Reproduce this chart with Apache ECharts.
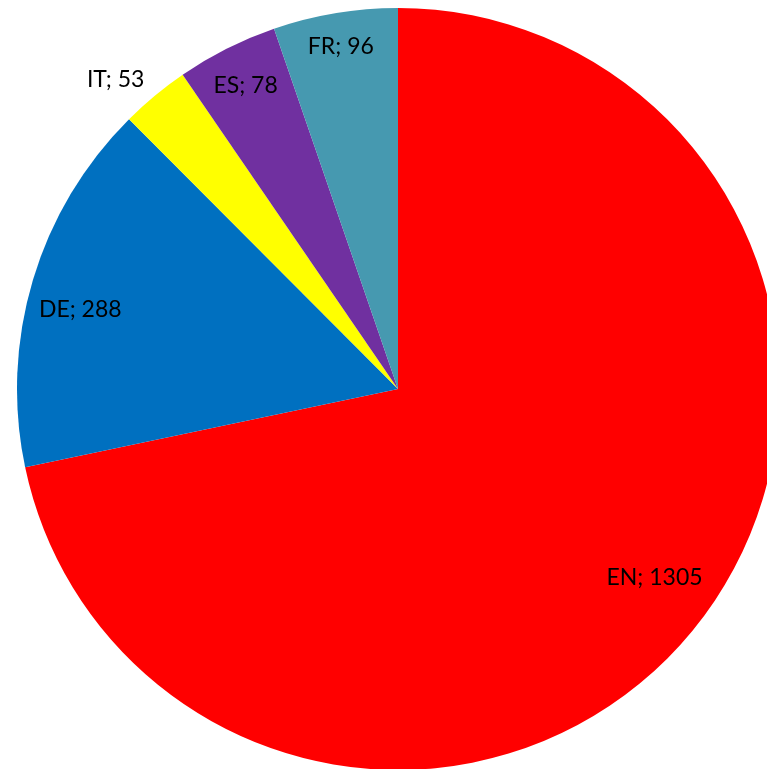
<!DOCTYPE html>
<html>
<head>
<meta charset="utf-8">
<script src="https://cdn.jsdelivr.net/npm/echarts@6/dist/echarts.min.js"></script>
<style>
  html, body { margin: 0; padding: 0; background: #fff; }
  #chart { width: 767px; height: 769px; }
</style>
</head>
<body>
<div id="chart"></div>
<script>
// Language shares, clockwise from 12 o'clock
const languages = ['EN', 'DE', 'IT', 'ES', 'FR'];
const counts = [1305, 288, 53, 78, 96];
const sliceColors = ['#FF0000', '#0070C0', '#FFFF00', '#7030A0', '#4699B0'];

// Pie geometry (px) and how far out each label sits, as a fraction of the radius
const CX = 398, CY = 389, R = 381;
const labelRadius = [0.835, 0.86, 1.10, 0.89, 0.91];
const labelAngleShift = [-2.8, -2.5, -2.7, 0, 0]; // degrees

const total = counts.reduce((a, b) => a + b, 0);
const midAngles = [];
let acc = 0;
counts.forEach(v => {
  const span = v / total * 360;
  midAngles.push(acc + span / 2);
  acc += span;
});

const chart = echarts.init(document.getElementById('chart'), null, { renderer: 'canvas' });
chart.setOption({
  animation: false,
  series: [{
    type: 'pie',
    center: [CX, CY],
    radius: [0, R],
    startAngle: 90,
    clockwise: true,
    avoidLabelOverlap: false,
    label: {
      show: true,
      position: 'inside',
      formatter: p => p.name + '; ' + p.value,
      color: '#000',
      fontFamily: 'Lato',
      fontSize: 23
    },
    labelLine: { show: false },
    labelLayout: params => {
      const i = params.dataIndex;
      const a = (midAngles[i] + labelAngleShift[i]) * Math.PI / 180;
      const r = R * labelRadius[i];
      return {
        x: CX + r * Math.sin(a),
        y: CY - r * Math.cos(a),
        align: 'center',
        verticalAlign: 'middle'
      };
    },
    itemStyle: { borderWidth: 0 },
    emphasis: { disabled: true },
    data: languages.map((name, i) => ({
      name,
      value: counts[i],
      itemStyle: { color: sliceColors[i] }
    }))
  }]
});
</script>
</body>
</html>
